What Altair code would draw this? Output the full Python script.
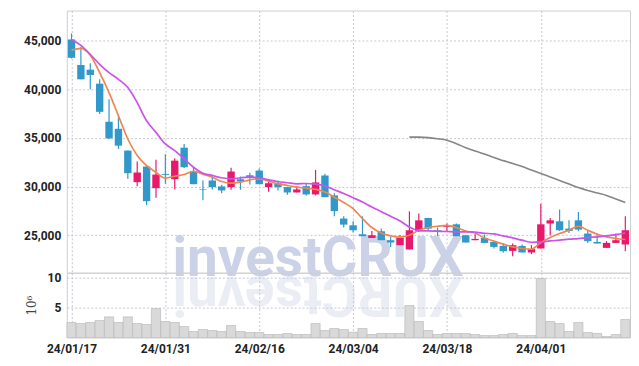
import altair as alt
import pandas as pd

# ---------------- data ----------------
dates = ["24/01/17", "24/01/18", "24/01/19", "24/01/22", "24/01/23", "24/01/24", "24/01/25", "24/01/26", "24/01/29", "24/01/30",
         "24/01/31", "24/02/01", "24/02/02", "24/02/05", "24/02/06", "24/02/07", "24/02/08", "24/02/13", "24/02/14", "24/02/15",
         "24/02/16", "24/02/19", "24/02/20", "24/02/21", "24/02/22", "24/02/23", "24/02/26", "24/02/27", "24/02/28", "24/02/29",
         "24/03/04", "24/03/05", "24/03/06", "24/03/07", "24/03/08", "24/03/11", "24/03/12", "24/03/13", "24/03/14", "24/03/15",
         "24/03/18", "24/03/19", "24/03/20", "24/03/21", "24/03/22", "24/03/25", "24/03/26", "24/03/27", "24/03/28", "24/03/29",
         "24/04/01", "24/04/02", "24/04/03", "24/04/04", "24/04/05", "24/04/08", "24/04/09", "24/04/11", "24/04/12", "24/04/15"]

opens = [45100, 42480, 42000, 40560, 36650, 35930, 33690, 30450, 32050, 29830,
         31300, 30750, 33990, 31570, 29700, 30620, 30010, 29940, 30750, 31160,
         31640, 29940, 30340, 29940, 29390, 30040, 29190, 31130, 29090, 26710,
         26020, 25100, 24720, 25410, 24490, 23980, 23540, 25440, 26770, 25510,
         25860, 26120, 25000, 24490, 24720, 24310, 23900, 23390, 23900, 23230,
         23640, 26200, 26430, 25680, 26530, 25170, 24310, 23700, 24210, 24050]
closes = [43220, 41010, 41450, 37670, 34940, 34200, 31370, 31440, 28500, 31230,
          31200, 32660, 31980, 30240, 29640, 29940, 29600, 31540, 30520, 30900,
          30240, 30340, 29940, 29390, 29700, 29190, 30420, 28910, 27480, 26090,
          25510, 24900, 25000, 24490, 24250, 24720, 25510, 26530, 25680, 25340,
          26020, 24900, 24250, 24620, 24210, 23800, 23360, 23980, 23230, 23570,
          26120, 26530, 25510, 25440, 25580, 24390, 24150, 24210, 24490, 25510]
highs = [45720, 44350, 42650, 41010, 38970, 37190, 33690, 32560, 32150, 32740,
         33310, 32900, 34370, 31980, 30620, 31200, 30180, 31920, 31030, 31410,
         31850, 30690, 30620, 29990, 30040, 30280, 31710, 31300, 29320, 26940,
         26430, 26940, 25440, 25680, 24820, 25030, 27450, 27220, 26800, 25790,
         26200, 26200, 25000, 25100, 25070, 24310, 24150, 24150, 24050, 23980,
         28240, 26770, 27630, 26530, 27380, 25440, 25170, 24390, 25170, 26940]
lows = [43150, 41010, 40000, 37440, 34880, 33860, 30790, 30040, 28070, 28850,
        30280, 29700, 31900, 30240, 28580, 29700, 29320, 29670, 29670, 30210,
        30240, 29470, 29600, 29160, 29390, 29090, 29090, 28910, 26940, 25790,
        25280, 24490, 24490, 24210, 23800, 23540, 23540, 25340, 25440, 24820,
        25440, 24760, 24250, 24490, 24210, 23640, 23230, 22850, 23230, 23060,
        23640, 25000, 25440, 25230, 25410, 24210, 24150, 23700, 24210, 23360]
volume_m = [2.5, 2.33, 2.5, 2.83, 3.44, 2.5, 3.44, 2.33, 2.17, 4.83,
            2.67, 2.5, 1.83, 1.0, 1.33, 1.17, 1.0, 2.0, 1.0, 0.83,
            0.83, 0.5, 0.5, 0.67, 0.5, 0.5, 2.33, 1.17, 1.5, 1.33,
            0.89, 1.5, 0.5, 0.67, 0.67, 0.67, 5.33, 2.67, 1.17, 0.5,
            0.67, 0.67, 0.67, 0.5, 0.33, 0.33, 0.5, 0.67, 0.33, 0.33,
            9.83, 2.67, 2.33, 1.0, 2.5, 0.83, 0.67, 0.17, 0.5, 3.0]
ma5 = [44010, 44180, 43470, 41690, 39640, 37260, 34880, 33180, 32150, 31470,
       30860, 31060, 31230, 31570, 31260, 30960, 30520, 30340, 30450, 30690,
       30790, 30550, 30280, 30110, 29940, 29830, 29700, 29430, 28910, 28370,
       27730, 26710, 25790, 25230, 24930, 24830, 25000, 25510, 25790, 25920,
       26020, 25790, 25440, 25230, 24720, 24390, 24080, 23800, 23640, 23570,
       24250, 24760, 25170, 25510, 25920, 25510, 25100, 24830, 24660, 24560]
ma10 = [45100, 44490, 43570, 42550, 41690, 41010, 40160, 38620, 36750, 35560,
        34370, 33690, 32840, 31980, 31360, 31130, 30900, 30790, 30900, 30960,
        30900, 30690, 30490, 30390, 30280, 30310, 30240, 30080, 29670, 29290,
        28850, 28400, 27890, 27420, 26940, 26460, 25850, 25480, 25440, 25410,
        25380, 25340, 25340, 25310, 25200, 25130, 24930, 24720, 24490, 24280,
        24310, 24420, 24490, 24590, 24660, 24760, 24830, 24930, 25070, 25230]
ma60 = [None] * 36 + [35070, 35070, 35020, 34910, 34760, 34400, 33990, 33640, 33330, 32970,
                      32660, 32360, 32050, 31690, 31340, 30980, 30620, 30260, 29900, 29600,
                      29340, 29090, 28730, 28370]

tick_labels = ["24/01/17", "24/01/31", "24/02/16", "24/03/04", "24/03/18", "24/04/01"]
price_ticks = [25000, 30000, 35000, 40000, 45000]
volume_ticks = [5, 10]
watermark = "investCRUX"

# ---------------- styling ----------------
RED = "#E8196B"
BLUE = "#3098CB"
ORANGE = "#EE8652"
PURPLE = "#CB52EA"
GRAY = "#858585"
WM = "#CBD1E6"

df = pd.DataFrame({"i": list(range(len(dates))), "date": dates, "open": opens, "high": highs,
                   "low": lows, "close": closes, "volume": volume_m,
                   "ma5": ma5, "ma10": ma10, "ma60": ma60})

tick_pos = [dates.index(t) for t in tick_labels]
label_expr = " : ".join(f"datum.value == {p} ? '{t}'" for p, t in zip(tick_pos, tick_labels)) + " : ''"

grid_style = dict(gridColor="#c6c6d6", gridDash=[2, 2], gridWidth=1)
label_style = dict(labelFont="Roboto", labelFontWeight="bold", labelFontSize=12, labelColor="#222222")

xs = alt.Scale(domain=[-0.5, len(dates) - 0.5], nice=False, zero=False, padding=0)
x_price = alt.X("i:Q", scale=xs, axis=alt.Axis(values=tick_pos, labels=False, ticks=False, domain=False,
                                               grid=True, title=None, **grid_style))
y_price = alt.Y("low:Q", scale=alt.Scale(domain=[21150, 48070], nice=False, zero=False, padding=0),
                axis=alt.Axis(values=price_ticks, format=",d", title=None, ticks=False, domain=False,
                              labelPadding=6, minExtent=53, maxExtent=53, **label_style, **grid_style))
cond = alt.condition("datum.close >= datum.open", alt.value(RED), alt.value(BLUE))

wm_df = pd.DataFrame({"t": [watermark], "r": [watermark[::-1]]})

wm_text = alt.Chart(wm_df).mark_text(font="Roboto", fontWeight="bold", fontSize=55, color=WM,
                                     align="center", baseline="alphabetic").encode(
    x=alt.value(252), y=alt.value(266.5), text="t:N")

wick = alt.Chart(df).mark_rule(strokeWidth=1.2).encode(x=x_price, y=y_price, y2="high:Q", color=cond)
body = alt.Chart(df).mark_bar(size=7.4).encode(x=x_price, y="open:Q", y2="close:Q", color=cond)
l60 = alt.Chart(df).mark_line(color=GRAY, strokeWidth=1.6, interpolate="monotone").encode(x=x_price, y="ma60:Q")
l5 = alt.Chart(df).mark_line(color=ORANGE, strokeWidth=1.7, interpolate="monotone").encode(x=x_price, y="ma5:Q")
l10 = alt.Chart(df).mark_line(color=PURPLE, strokeWidth=1.7, interpolate="monotone").encode(x=x_price, y="ma10:Q")

price = alt.layer(wick, wm_text, body, l60, l5, l10).properties(width=565, height=263)

x_vol = alt.X("i:Q", scale=xs, axis=alt.Axis(values=tick_pos, labelExpr=label_expr, ticks=False, domain=False,
                                             grid=True, title=None, labelPadding=6, **label_style, **grid_style))
y_vol = alt.Y("volume:Q", scale=alt.Scale(domain=[0, 10.8], nice=False, padding=0),
              axis=alt.Axis(values=volume_ticks, format="d", ticks=False, domain=False, labelPadding=6,
                            minExtent=20, maxExtent=20, title="10⁶", titleFont="DejaVu Serif",
                            titleFontWeight="normal", titleFontSize=12, titleColor="#444444",
                            titlePadding=8, **label_style, **grid_style))

refl = alt.Chart(wm_df).mark_text(font="Roboto", fontWeight="bold", fontSize=55, color=WM, opacity=0.38,
                                  align="center", baseline="alphabetic", angle=180).encode(
    x=alt.value(252), y=alt.value(4.5), text="r:N")
vbars = alt.Chart(df).mark_bar(size=9.2, color="#D9D9D9", stroke="#B5B5B5", strokeWidth=0.6).encode(
    x=x_vol, y=y_vol)

vol = alt.layer(refl, vbars).properties(width=565, height=65)

chart = alt.vconcat(price, vol, spacing=0, bounds="flush").properties(
    padding={"left": 5, "top": 1, "right": 0, "bottom": 5}
).configure_view(stroke="#cfcfcf", strokeWidth=1)

chart.save("out.html", embed_options={"renderer": "svg", "actions": False})
